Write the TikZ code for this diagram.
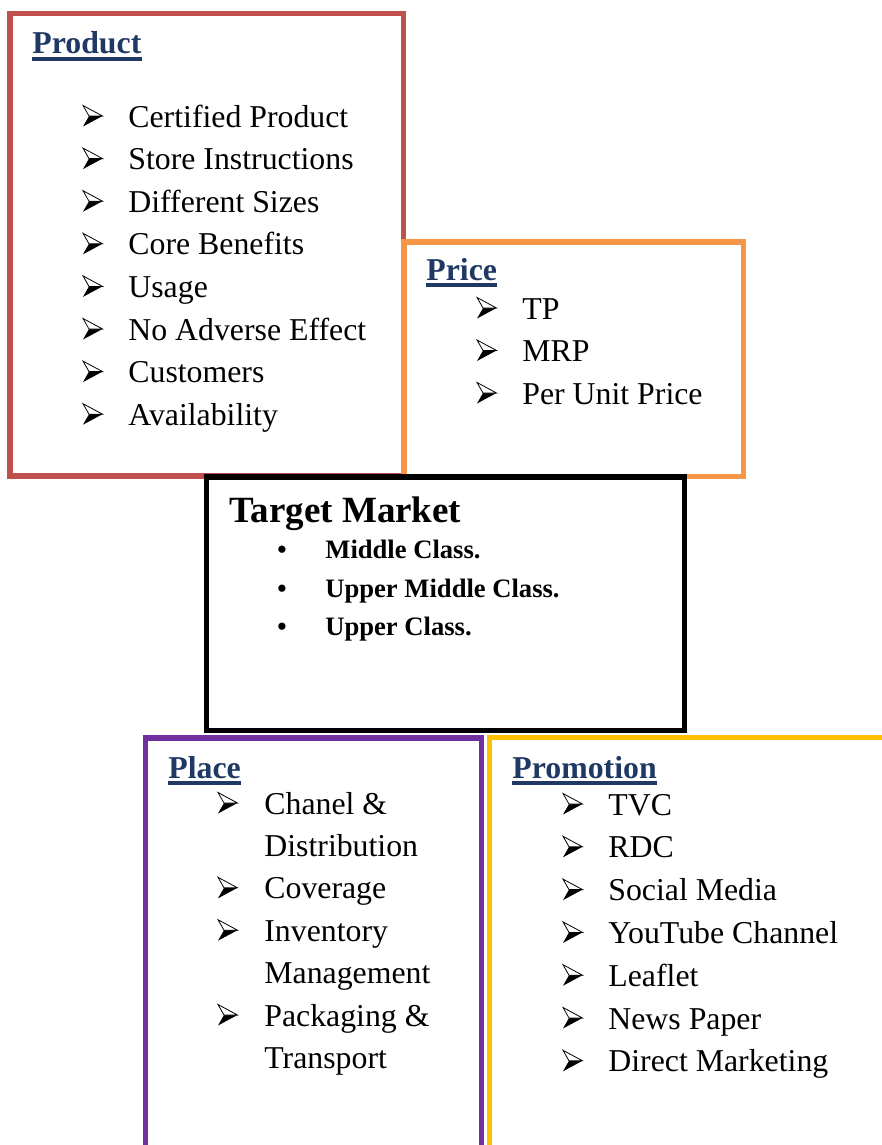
\documentclass[tikz,border=0pt]{standalone}
\usepackage{fontspec}
\setmainfont{Liberation Serif}

\definecolor{rojoprod}{HTML}{C0504D}
\definecolor{naranja}{HTML}{F79646}
\definecolor{morado}{HTML}{7030A0}
\definecolor{amarillo}{HTML}{FFC000}
\definecolor{azultit}{HTML}{1F3864}

\tikzset{
  caja/.style={line width=2.75pt},
  titulo/.style={anchor=base west, inner sep=0pt, text=azultit,
    font=\fontsize{15.9}{19}\selectfont\bfseries},
  subrayado/.style={azultit, line width=2pt},
  item/.style={anchor=base west, inner sep=0pt,
    font=\fontsize{15.9}{19}\selectfont},
  punto/.style={anchor=base west, inner sep=0pt,
    font=\fontsize{13.3}{16}\selectfont\bfseries},
  flecha/.pic={
    \fill[black] (6,0) -- (19.5,0) -- (0,10.5) -- cycle;
    \draw[black, line width=0.4pt, fill=white] (0,-10.5) -- (19.5,0) -- (6,0) -- cycle;
  }
}

\begin{document}
\begin{tikzpicture}[x=0.5pt, y=-0.5pt]
        % Paso 1: Recorta el area del dibujo
        \clip (0,0) rectangle (882,1145);

        % Paso 2: Dibuja las cajas
        \draw[caja, rojoprod] (10,13.5) rectangle (403.5,476);
        \draw[caja, naranja] (404,242) rectangle (743.5,476.5);
        \draw[caja, black] (206.5,477) rectangle (684.5,730.5);
        \draw[caja, morado] (145.5,738) rectangle (481.5,1170);
        \draw[caja, amarillo] (489.5,737.5) rectangle (910,1170);

        % Paso 3: Producto
        \node[titulo] (product) at (32,54) {Product};
        \draw[subrayado] ([yshift=-2.5pt]product.base west) -- ([yshift=-2.5pt]product.base east);
        \foreach \t [count=\i from 0] in {Certified Product, Store Instructions,
            Different Sizes, Core Benefits, Usage, No Adverse Effect, Customers, Availability}
        {
            \pic at (83,{127+42.6*\i-11}) {flecha};
            \node[item] (prod\i) at (128,{127+42.6*\i}) {\t};
        }

        % Paso 4: Precio
        \node[titulo] (price) at (426,280) {Price};
        \draw[subrayado] ([yshift=-2.5pt]price.base west) -- ([yshift=-2.5pt]price.base east);
        \foreach \t [count=\i from 0] in {TP, MRP, Per Unit Price}
        {
            \pic at (477,{319+42.5*\i-11}) {flecha};
            \node[item] (price\i) at (522,{319+42.5*\i}) {\t};
        }

        % Paso 5: Mercado objetivo
        \node[anchor=base west, inner sep=0pt, font=\fontsize{18.5}{22}\selectfont\bfseries]
            (target) at (229,522) {Target Market};
        \foreach \t/\y [count=\i from 0] in {Middle Class./558, Upper Middle Class./597, Upper Class./635}
        {
            \node[punto] (bul\i) at (277,\y) {•};
            \node[punto] (tm\i) at (325,\y) {\t};
        }

        % Paso 6: Plaza
        \node[titulo] (place) at (168,778) {Place};
        \draw[subrayado] ([yshift=-2.5pt]place.base west) -- ([yshift=-2.5pt]place.base east);
        \foreach \t/\f [count=\i from 0] in {Chanel \&/1, Distribution/0, Coverage/1,
            Inventory/1, Management/0, Packaging \&/1, Transport/0}
        {
            \ifnum\f=1 \pic at (218,{814+42.4*\i-11}) {flecha}; \fi
            \node[item] (place\i) at (264,{814+42.4*\i}) {\t};
        }

        % Paso 7: Promocion
        \node[titulo] (promo) at (512,778) {Promotion};
        \draw[subrayado] ([yshift=-2.5pt]promo.base west) -- ([yshift=-2.5pt]promo.base east);
        \foreach \t [count=\i from 0] in {TVC, RDC, Social Media, YouTube Channel,
            Leaflet, News Paper, Direct Marketing}
        {
            \pic at (563,{815+42.8*\i-11}) {flecha};
            \node[item] (promo\i) at (608,{815+42.8*\i}) {\t};
        }
    \end{tikzpicture}
\end{document}
